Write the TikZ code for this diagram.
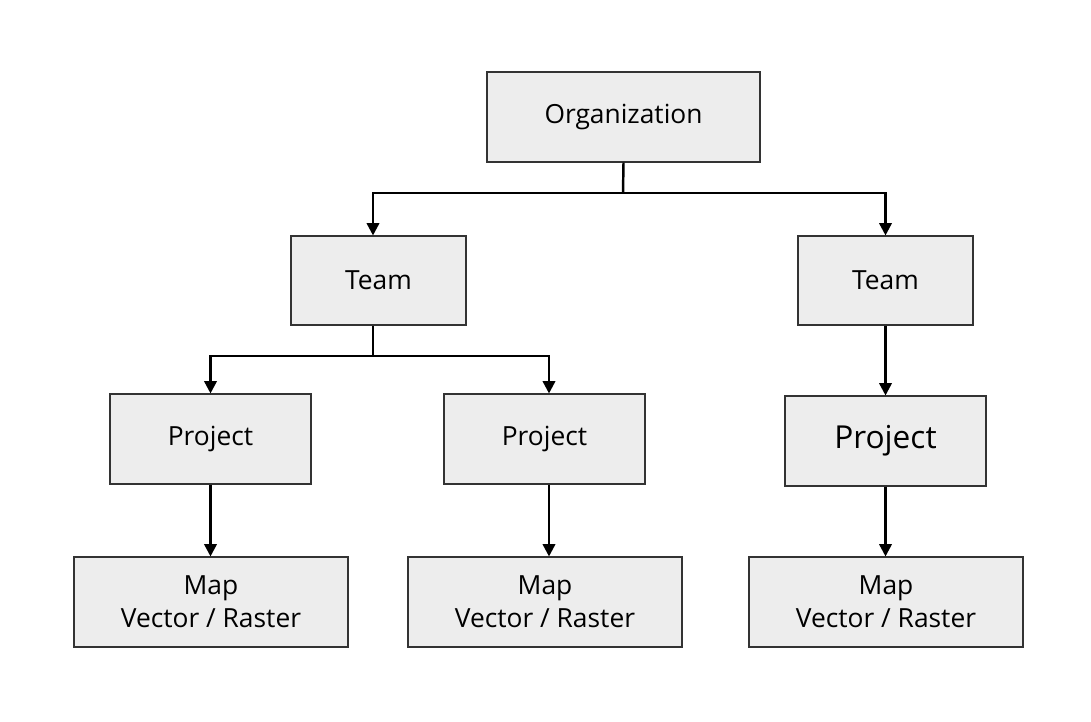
\documentclass[tikz,border=0pt]{standalone}
\usepackage{fontspec}
\setmainfont{Open Sans}
\usetikzlibrary{arrows.meta}
\begin{document}
\begin{tikzpicture}[x=0.02cm,y=-0.02cm,
  box/.style={draw=black!80,line width=0.6pt,fill=black!7,inner sep=0pt,font=\fontsize{15}{19}\selectfont,align=center},
  arr/.style={line width=1.4pt,-{Triangle[length=7pt,width=7pt]}}]
\useasboundingbox (0,0) rectangle (1091,721);
\node[box,minimum width=273*0.02cm,minimum height=90*0.02cm] (org) at (623.5,117) {Organization};
\node[box,minimum width=175*0.02cm,minimum height=89*0.02cm] (tl) at (378.5,280.5) {Team};
\node[box,minimum width=175*0.02cm,minimum height=89*0.02cm] (tr) at (885.5,280.5) {Team};
\node[box,minimum width=201*0.02cm,minimum height=90*0.02cm] (p1) at (210.5,439) {Project};
\node[box,minimum width=201*0.02cm,minimum height=90*0.02cm] (p2) at (544.5,439) {Project};
\node[box,minimum width=201*0.02cm,minimum height=90*0.02cm,font=\fontsize{18}{22}\selectfont] (p3) at (885.5,441) {Project};
\node[box,minimum width=274*0.02cm,minimum height=90*0.02cm] (m1) at (211,602) {Map\\Vector / Raster};
\node[box,minimum width=274*0.02cm,minimum height=90*0.02cm] (m2) at (545,602) {Map\\Vector / Raster};
\node[box,minimum width=274*0.02cm,minimum height=90*0.02cm] (m3) at (886,602) {Map\\Vector / Raster};
\coordinate (ja) at (623,193);
\coordinate (jb) at (373,356);
\draw[line width=1.4pt] (org.south) -- (ja);
\draw[arr] (ja) -| ([xshift=-5.5*0.02cm]tl.north);
\draw[arr] (ja) -| (tr.north);
\draw[line width=1.4pt] ([xshift=-5.5*0.02cm]tl.south) -- (jb);
\draw[arr] (jb) -| (p1.north);
\draw[arr] (jb) -| ([xshift=4.5*0.02cm]p2.north);
\draw[arr] (tr.south) -- (p3.north);
\draw[arr] (p1.south) -- (p1.south |- m1.north);
\draw[arr] ([xshift=4.5*0.02cm]p2.south) -- ([xshift=4.5*0.02cm]p2.south |- m2.north);
\draw[arr] (p3.south) -- (p3.south |- m3.north);
\end{tikzpicture}
\end{document}
